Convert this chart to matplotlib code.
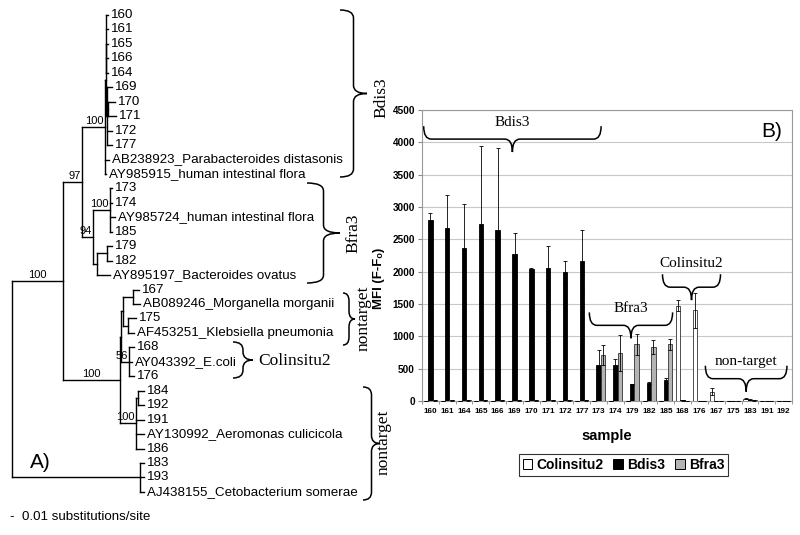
import numpy as np
import matplotlib
matplotlib.use('Agg')
import matplotlib.pyplot as plt
from matplotlib.path import Path
from matplotlib.patches import PathPatch, Patch

# ---- data: bar chart (B) ----
samples = ['160', '161', '164', '165', '166', '169', '170', '171', '172', '177',
           '173', '174', '179', '182', '185', '168', '176', '167', '175', '183', '191', '192']
colinsitu2 = [4, 4, 4, 4, 4, 4, 4, 4, 4, 4, 4, 4, 4, 4, 4, 1475, 1400, 145, 5, 35, 3, 3]
colinsitu2_err = [2, 2, 2, 2, 2, 2, 2, 2, 2, 2, 2, 2, 2, 2, 2, 90, 265, 50, 2, 5, 1, 1]
bdis3 = [2800, 2680, 2360, 2730, 2640, 2270, 2040, 2050, 2000, 2170,
         555, 555, 260, 285, 320, 8, 5, 3, 3, 20, 3, 3]
bdis3_err = [100, 500, 680, 1220, 1270, 330, 15, 340, 170, 470,
             230, 100, 10, 15, 35, 3, 2, 2, 2, 5, 2, 2]
bfra3 = [8, 8, 8, 8, 8, 8, 8, 8, 8, 8, 710, 740, 875, 840, 875, 5, 5, 2, 2, 10, 2, 2]
bfra3_err = [3, 3, 3, 3, 3, 3, 3, 3, 3, 3, 155, 280, 160, 110, 90, 2, 2, 1, 1, 3, 1, 1]

# brace groups on the bar chart: label, first/last category edge, top value
bar_groups = [('Bdis3', -0.4, 10.15, 4250), ('Bfra3', 9.45, 14.4, 1370),
              ('Colinsitu2', 13.8, 17.25, 1960), ('non-target', 16.35, 21.2, 545)]

# ---- data: tree (A) ----
def N(x, kids, boot=None):
    return {'x': x, 'kids': kids, 'boot': boot}

def L(name, x):
    return {'x': x, 'name': name}

bdis3_clade = N(105, [N(105.5, [N(106, [L('160', 108), L('161', 108), L('165', 108), L('166', 108), L('164', 108)]),
                                N(106.5, [L('169', 112), N(108, [L('170', 115), L('171', 116)]),
                                          L('172', 112), L('177', 112)])]),
                      L('AB238923_Parabacteroides distasonis', 109),
                      L('AY985915_human intestinal flora', 106)], boot=100)
bfra3_clade = N(93, [N(110, [L('173', 112), L('174', 112), L('AY985724_human intestinal flora', 115), L('185', 112)], boot=100),
                     N(97, [N(107, [L('179', 112), L('182', 112)]), L('AY895197_Bacteroides ovatus', 110)])], boot=94)
entero_clade = N(120, [N(121, [N(122.5, [N(133, [L('167', 139), L('AB089246_Morganella morganii', 140)]),
                                         N(128, [L('175', 136), L('AF453251_Klebsiella pneumonia', 134)])]),
                               N(129, [L('168', 134), L('AY043392_E.coli', 132), L('176', 134)], boot=56)]),
                       N(136, [N(138, [L('184', 144), L('192', 144)]), L('191', 144),
                               L('AY130992_Aeromonas culicicola', 144), L('186', 144)], boot=100)], boot=100)
tree = N(12, [N(63, [N(82, [bdis3_clade, bfra3_clade], boot=97), entero_clade], boot=100),
              N(140, [L('183', 144), L('193', 144), L('AJ438155_Cetobacterium somerae', 144)])])

# tree braces: label, first/last y, x of ends, depth, label position, rotation
tree_groups = [('Bdis3', 10, 177, 340, 27, (381, 98), 90),
               ('Bfra3', 183, 283, 307, 33, (353, 233), 90),
               ('nontarget', 293, 345, 343, 12, (364, 318), 90),
               ('Colinsitu2', 342, 378, 233, 20, (258, 361), 0),
               ('nontarget', 387, 500, 363, 17, (384, 442), 90)]

plt.rcParams['font.family'] = ['Liberation Sans', 'DejaVu Sans']
fig = plt.figure(figsize=(8, 5.35), dpi=100)


def brace(ax, a0, a1, base, depth, curl, vertical=False, **kw):
    m = (a0 + a1) / 2
    hh = base + depth / 2
    tip = base + depth
    pts = [(a0, base), (a0, hh), (a0 + curl, hh), (m - curl, hh), (m, hh), (m, tip),
           (m, hh), (m + curl, hh), (a1 - curl, hh), (a1, hh), (a1, base)]
    if vertical:
        pts = [(p, q) for q, p in pts]
    codes = [Path.MOVETO, Path.CURVE3, Path.CURVE3, Path.LINETO, Path.CURVE3, Path.CURVE3,
             Path.CURVE3, Path.CURVE3, Path.LINETO, Path.CURVE3, Path.CURVE3]
    ax.add_patch(PathPatch(Path(pts, codes), fill=False, **kw))


# ---------------- tree ----------------
axt = fig.add_axes([0, 0, 1, 1])
axt.set_xlim(0, 800)
axt.set_ylim(535, 0)
axt.axis('off')

leaf_count = [0]


def layout(node):
    if 'name' in node:
        node['y'] = 15 + leaf_count[0] * 14.45
        leaf_count[0] += 1
    else:
        for k in node['kids']:
            layout(k)
        node['y'] = (node['kids'][0]['y'] + node['kids'][-1]['y']) / 2


def draw(node, parent_x):
    axt.plot([parent_x, node['x']], [node['y'], node['y']], color='black', lw=1)
    if 'name' in node:
        axt.text(node['x'] + 3, node['y'], node['name'], fontsize=9.6, va='center', ha='left')
        return
    axt.plot([node['x'], node['x']], [node['kids'][0]['y'], node['kids'][-1]['y']], color='black', lw=1)
    if node['boot'] is not None:
        if node['x'] - parent_x > 25:
            axt.text((node['x'] + parent_x) / 2, node['y'] - 1, str(node['boot']),
                     fontsize=8, ha='center', va='bottom')
        else:
            axt.text(node['x'] - 1, node['y'] - 1, str(node['boot']),
                     fontsize=8, ha='right', va='bottom')
    for k in node['kids']:
        draw(k, node['x'])


layout(tree)
draw(tree, tree['x'])

for name, y0, y1, xb, d, (lx, ly), rot in tree_groups:
    brace(axt, y0, y1, xb, d, 8, vertical=True, color='black', lw=1.1)
    axt.text(lx, ly, name, family='Liberation Serif', fontsize=12.5, rotation=rot,
             ha='center' if rot else 'left', va='center')

axt.text(40, 462, 'A)', fontsize=15, ha='center', va='center')
axt.text(10, 517, '-  0.01 substitutions/site', fontsize=9.6, ha='left', va='center')

# ---------------- bar chart ----------------
ax = fig.add_axes([422 / 800, (535 - 401) / 535, 370 / 800, 291 / 535])
x = np.arange(len(samples))
w = 0.26
err_kw = dict(ecolor='black', elinewidth=0.6, capsize=1.5, capthick=0.6)
ax.bar(x - w, colinsitu2, w, yerr=colinsitu2_err, color='white', edgecolor='#333333',
       linewidth=0.6, error_kw=err_kw, label='Colinsitu2', zorder=3)
ax.bar(x, bdis3, w, yerr=bdis3_err, color='black', edgecolor='black',
       linewidth=0.6, error_kw=err_kw, label='Bdis3', zorder=3)
ax.bar(x + w, bfra3, w, yerr=bfra3_err, color='#b4b4b4', edgecolor='#333333',
       linewidth=0.6, error_kw=err_kw, label='Bfra3', zorder=3)

ax.set_xlim(-0.5, len(samples) - 0.5)
ax.set_ylim(0, 4500)
ax.set_yticks(np.arange(0, 4501, 500))
ax.grid(True, axis='y', color='#c8c8c8', lw=0.8, zorder=0)
ax.set_xticks(x)
ax.set_xticklabels(samples, fontsize=5.9, fontweight='bold')
ax.set_xticks(np.arange(-0.5, len(samples), 1), minor=True)
ax.tick_params(axis='x', which='major', length=0, pad=5)
ax.tick_params(axis='x', which='minor', length=2.5, color='#888888')
ax.set_yticklabels([str(v) for v in range(0, 4501, 500)], fontsize=7.2, fontweight='bold')
ax.tick_params(axis='y', length=3, color='#888888', pad=2)
for s in ax.spines.values():
    s.set_color('#999999')
    s.set_linewidth(0.8)

ax.set_ylabel('MFI (F-F\u2092)', fontsize=9.5, fontweight='bold')
ax.yaxis.set_label_coords(-0.1, 0.42)
ax.set_xlabel('sample', fontsize=10.5, fontweight='bold')
ax.xaxis.set_label_coords(0.5, -0.095)

for name, a0, a1, top in bar_groups:
    brace(ax, a0, a1, top, -400, 0.45, color='black', lw=1.1, zorder=4)
    ax.text((a0 + a1) / 2, top + 60 if name != 'Colinsitu2' else top + 170, name,
            family='Liberation Serif', fontsize=11, ha='center', va='center', zorder=4)

ax.text(0.945, 0.925, 'B)', transform=ax.transAxes, fontsize=15, ha='center', va='center')

handles = [Patch(facecolor='white', edgecolor='black', lw=0.7),
           Patch(facecolor='black', edgecolor='black', lw=0.7),
           Patch(facecolor='#b4b4b4', edgecolor='black', lw=0.7)]
leg = fig.legend(handles, ['Colinsitu2', 'Bdis3', 'Bfra3'], loc='center',
                 bbox_to_anchor=(623.5 / 800, 1 - 465 / 535), ncol=3, fancybox=False,
                 edgecolor='black', handlelength=0.7, handleheight=0.7, handletextpad=0.3,
                 columnspacing=0.7, borderpad=0.3, prop={'weight': 'bold', 'size': 10})
leg.get_frame().set_linewidth(0.8)

fig.savefig('out.png', dpi=100)
